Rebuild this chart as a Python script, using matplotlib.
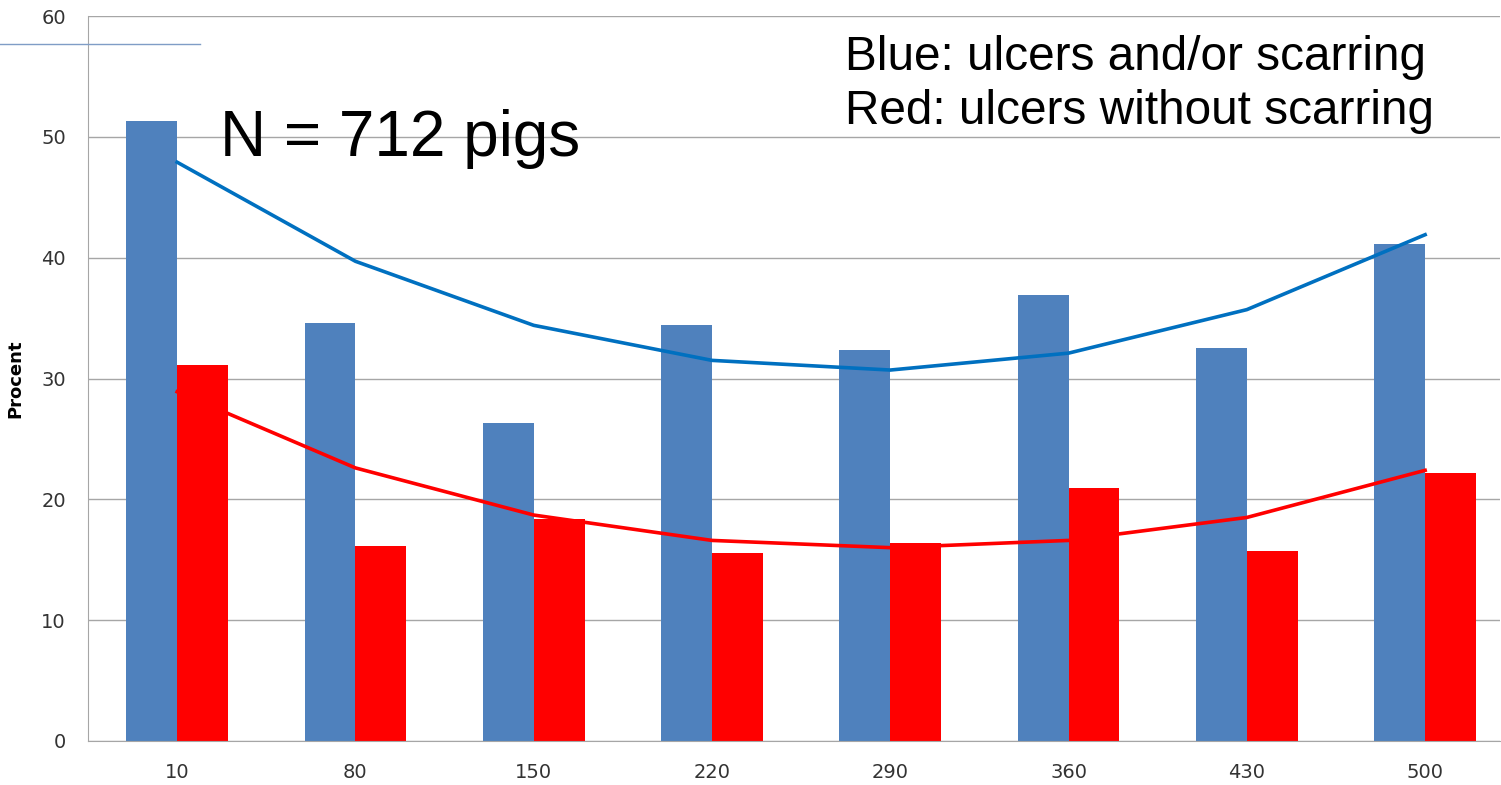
import matplotlib
matplotlib.use("Agg")
import matplotlib.pyplot as plt
import numpy as np
from matplotlib.lines import Line2D

categories = ["10", "80", "150", "220", "290", "360", "430", "500"]
blue_bars = [51.3, 34.6, 26.3, 34.4, 32.4, 36.9, 32.5, 41.1]
red_bars = [31.1, 16.1, 18.4, 15.6, 16.4, 20.9, 15.7, 22.2]
blue_trend = [47.9, 39.7, 34.4, 31.5, 30.7, 32.1, 35.7, 41.9]
red_trend = [28.9, 22.6, 18.7, 16.6, 16.0, 16.6, 18.5, 22.4]

fig = plt.figure(figsize=(15.01, 7.85), dpi=100)
ax = fig.add_axes([88 / 1501, 1 - 741 / 785, (1500 - 88) / 1501, 725 / 785])

x = np.arange(len(categories))
w = 0.285
ax.bar(x - w / 2, blue_bars, w, color="#4F81BD", zorder=2)
ax.bar(x + w / 2, red_bars, w, color="#FF0000", zorder=2)
ax.plot(x, blue_trend, color="#0070C0", lw=2.6, zorder=3)
ax.plot(x, red_trend, color="#FF0000", lw=2.6, zorder=3)

ax.set_xlim(-0.5, 7.42)
ax.set_ylim(0, 60)
ax.set_yticks(range(0, 61, 10))
ax.set_xticks(x)
ax.set_xticklabels(categories)
ax.yaxis.grid(True, color="#A6A6A6", lw=1)
ax.set_axisbelow(True)
for s in ["top", "right"]:
    ax.spines[s].set_visible(False)
for s in ["left", "bottom"]:
    ax.spines[s].set_color("#A6A6A6")
ax.tick_params(length=0, labelsize=14, colors="#333333", pad=16)
ax.tick_params(axis="y", pad=16)
ax.set_ylabel("Procent", fontsize=13, fontweight="bold", labelpad=12)

ax.text(0.24, 49.8, "N = 712 pigs", fontsize=46, family="Liberation Sans", va="center")
fig.text(845 / 1501, 1 - 57 / 785, "Blue: ulcers and/or scarring", fontsize=34.4,
         family="Liberation Sans", va="center")
fig.text(845 / 1501, 1 - 112 / 785, "Red: ulcers without scarring", fontsize=34.4,
         family="Liberation Sans", va="center")

fig.add_artist(Line2D([0, 200 / 1501], [1 - 44 / 785, 1 - 44 / 785], color="#7F9DC6", lw=1))

fig.savefig("out.png", dpi=100)
